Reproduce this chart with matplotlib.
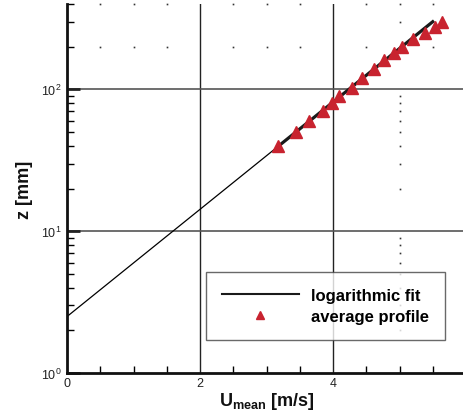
import numpy as np
import matplotlib.pyplot as plt

plt.rcParams['font.family'] = ['Liberation Sans', 'DejaVu Sans']
plt.rcParams['mathtext.fontset'] = 'custom'
plt.rcParams['mathtext.rm'] = 'Liberation Sans'
plt.rcParams['mathtext.bf'] = 'Liberation Sans:bold'

# measured mean velocity profile
z_meas = [40, 50, 60, 70, 80, 90, 103, 120, 140, 160, 180, 200, 225, 250, 275, 300]
u_meas = [3.18, 3.45, 3.64, 3.85, 3.99, 4.09, 4.28, 4.43, 4.61, 4.77, 4.91,
          5.04, 5.21, 5.39, 5.53, 5.64]

# log law fit  U = (u*/kappa) ln(z/z0)
u_star = 0.471
kappa = 0.41
z0 = 2.5

x_minor = [0.5, 1, 1.5, 2.5, 3, 3.5, 4.5, 5, 5.5]
z_minor = [2, 3, 4, 5, 6, 7, 8, 9, 20, 30, 40, 50, 60, 70, 80, 90, 200, 300]


def log_fit(z):
    return u_star / kappa * np.log(np.asarray(z) / z0)


def main():
    fig = plt.figure(figsize=(4.64, 4.14), dpi=100)
    ax = fig.add_axes([67 / 464, 40 / 414, 399 / 464, 369 / 414])
    ax.set_yscale('log')
    ax.set_xlim(0, 6)
    ax.set_ylim(1, 400)

    # major grid
    for xv in [2, 4]:
        ax.axvline(xv, color='#222222', lw=1.0, zorder=1)
    for zv in [10, 100]:
        ax.axhline(zv, color='#555555', lw=1.2, zorder=1)

    # sparse dotted minor grid
    ax.plot(np.full(len(z_minor), 5.0), z_minor, ls='none', marker='s', ms=1.2,
            mew=0, color='#333333', zorder=1)
    for zv in [200, 400]:
        ax.plot(x_minor, np.full(len(x_minor), zv), ls='none', marker='s', ms=1.2,
                mew=0, color='#333333', zorder=1, clip_on=False)

    z_all = np.geomspace(z0, max(z_meas), 200)
    ax.plot(log_fit(z_all), z_all, color='black', lw=0.9, zorder=2)
    z_fit = np.geomspace(min(z_meas), max(z_meas), 100)
    ax.plot(log_fit(z_fit), z_fit, color='#1a1a1a', lw=2.3, zorder=2,
            label='logarithmic fit')
    ax.plot(u_meas, z_meas, ls='none', marker='^', ms=8.8, color='#c8232f',
            zorder=3, label='average profile')

    for s in ['top', 'right']:
        ax.spines[s].set_visible(False)
    for s in ['left', 'bottom']:
        ax.spines[s].set_linewidth(2.0)
        ax.spines[s].set_color('#111111')

    ax.set_xticks([0, 2, 4, 6])
    ax.set_xticks(x_minor, minor=True)
    ax.tick_params(axis='x', which='major', direction='in', length=0, pad=3,
                   labelsize=9, colors='#222222')
    ax.tick_params(axis='x', which='minor', direction='in', length=5, width=1)
    ax.tick_params(axis='y', which='major', direction='in', length=9, width=2,
                   pad=4, labelsize=9, colors='#222222')
    ax.tick_params(axis='y', which='minor', direction='in', length=5, width=1)

    ax.set_xlabel(r'$\mathbf{U}_{\mathbf{mean}}$ [m/s]', fontsize=13,
                  fontweight='bold', labelpad=0.5, color='#111111')
    ax.set_ylabel('z [mm]', fontsize=13, fontweight='bold', labelpad=6,
                  color='#111111')

    leg = ax.legend(loc='lower left', bbox_to_anchor=(139 / 399, 33 / 369),
                    prop={'weight': 'bold', 'size': 12}, markerscale=0.65,
                    fancybox=False, handlelength=4.6, handletextpad=0.75,
                    borderpad=0.95, labelspacing=0.38, borderaxespad=0)
    leg.get_frame().set_edgecolor('#444444')
    leg.get_frame().set_linewidth(1.0)
    leg.get_lines()[0].set_linewidth(1.5)

    fig.savefig('out.png', dpi=100)


if __name__ == '__main__':
    main()
